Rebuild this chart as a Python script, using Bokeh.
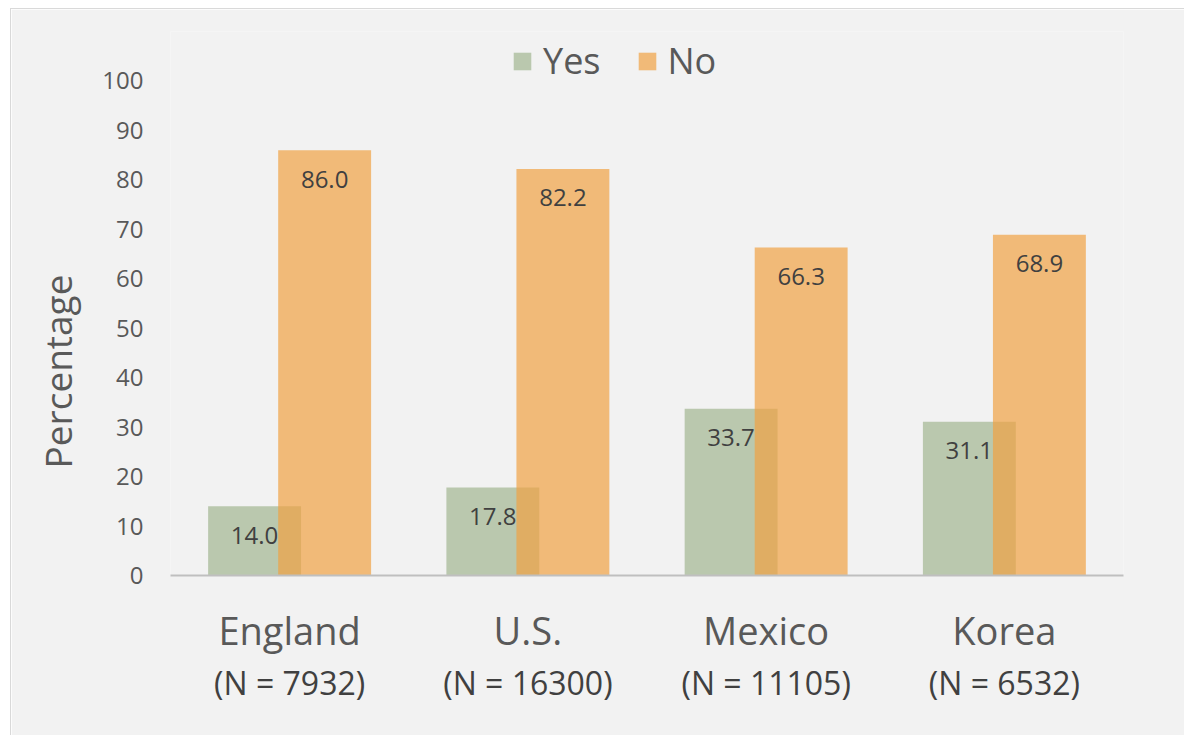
from bokeh.plotting import figure
from bokeh.models import (ColumnDataSource, Range1d, FixedTicker, CategoricalAxis,
                          Legend, LegendItem, LabelSet, Title, FactorRange)
from bokeh.transform import dodge
from bokeh.core.properties import value
from bokeh.embed import file_html
from bokeh.resources import INLINE

countries = ["England", "U.S.", "Mexico", "Korea"]
n_labels = ["(N = 7932)", "(N = 16300)", "(N = 11105)", "(N = 6532)"]
yes = [14.0, 17.8, 33.7, 31.1]
no = [86.0, 82.2, 66.3, 68.9]
y_ticks = [0, 10, 20, 30, 40, 50, 60, 70, 80, 90, 100]
y_title = "Percentage"

FONT = "Open Sans"
GREEN = "#bac8ae"
ORANGE = "#f1a141"

src = ColumnDataSource(dict(
    country=countries, yes=yes, no=no,
    yes_lbl=[f"{v:.1f}" for v in yes],
    no_lbl=[f"{v:.1f}" for v in no],
))

p = figure(x_range=FactorRange(*countries), y_range=Range1d(0, 110),
           width=1174, height=727, output_backend="svg", toolbar_location=None,
           min_border_left=159, min_border_right=62, min_border_top=22,
           min_border_bottom=161)
p.extra_x_ranges = {"n": FactorRange(*n_labels)}
p.background_fill_color = "#f2f2f2"
p.border_fill_color = "#f2f2f2"
p.outline_line_color = None
p.xgrid.grid_line_color = None
p.ygrid.grid_line_color = None

off = 0.147
w = 0.39
r_yes = p.vbar(x=dodge("country", -off, range=p.x_range), top="yes", width=w,
               source=src, fill_color=GREEN, line_color=None)
r_no = p.vbar(x=dodge("country", off, range=p.x_range), top="no", width=w,
              source=src, fill_color=ORANGE, fill_alpha=0.69, line_color=None)

for col, lbl, d in [("yes", "yes_lbl", -off), ("no", "no_lbl", off)]:
    ls = LabelSet(x=dodge("country", d, range=p.x_range), y=col, text=lbl,
                  source=src, y_offset=-29, text_align="center",
                  text_baseline="middle", text_font=value(FONT),
                  text_font_size="24px", text_color="#404040")
    p.add_layout(ls)

# y axis
ya = p.yaxis[0]
ya.ticker = FixedTicker(ticks=y_ticks)
ya.axis_line_color = None
ya.major_tick_line_color = None
ya.minor_tick_line_color = None
ya.major_tick_out = 0
ya.major_label_standoff = 27
ya.major_label_text_font = FONT
ya.major_label_text_font_size = "24px"
ya.major_label_text_color = "#595959"

# y axis title as a side title (lets it sit lower than the frame centre)
p.add_layout(Title(text=y_title, align="left", offset=107, standoff=34,
                   text_font=FONT, text_font_size="37px",
                   text_font_style="normal", text_color="#595959"), "left")

# x axis (country names)
xa = p.xaxis[0]
xa.axis_line_color = "#bfbfbf"
xa.axis_line_width = 2
xa.major_tick_line_color = None
xa.minor_tick_line_color = None
xa.major_tick_out = 0
xa.major_label_standoff = 28
xa.major_label_text_font = FONT
xa.major_label_text_font_size = "38px"
xa.major_label_text_color = "#595959"

# second x axis (sample sizes)
xa2 = CategoricalAxis(x_range_name="n")
xa2.axis_line_color = None
xa2.major_tick_line_color = None
xa2.minor_tick_line_color = None
xa2.major_tick_out = 0
xa2.major_tick_in = 0
xa2.major_label_standoff = 2
xa2.major_label_text_font = FONT
xa2.major_label_text_font_size = "32px"
xa2.major_label_text_color = "#404040"
p.add_layout(xa2, "below")

legend = Legend(items=[LegendItem(label="Yes", renderers=[r_yes]),
                       LegendItem(label="No", renderers=[r_no])],
                location=(341, 490), orientation="horizontal",
                label_text_font=FONT, label_text_font_size="36px",
                label_text_color="#595959", glyph_width=22, glyph_height=22,
                label_standoff=10, spacing=35, padding=0, margin=0,
                background_fill_alpha=0, border_line_color=None)
p.add_layout(legend, "center")

p.styles = {"border-left": "1px solid #d9d9d9", "border-top": "1px solid #d9d9d9",
            "margin-left": "10px", "margin-top": "8px"}

open("out.html", "w").write(file_html(p, INLINE))
